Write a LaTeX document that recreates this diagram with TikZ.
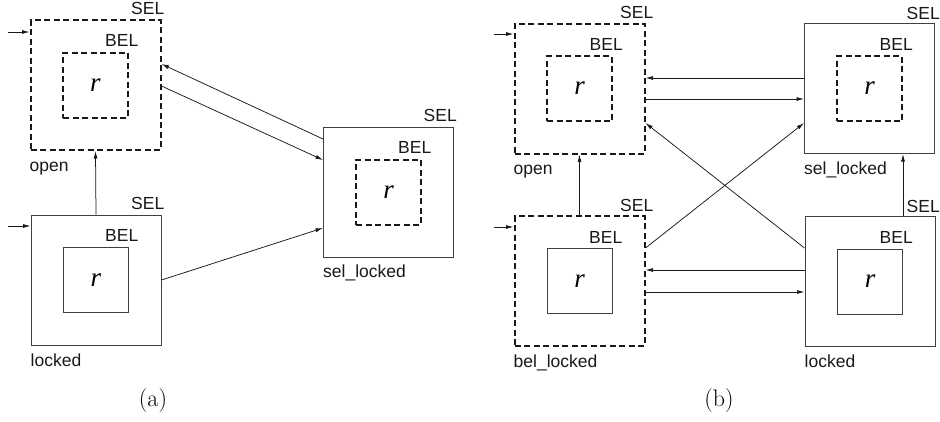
\documentclass[tikz,border=0pt]{standalone}
\usepackage{fontspec}
\setsansfont{Liberation Sans}
\newfontfamily\rfont{Liberation Serif}
\usetikzlibrary{arrows.meta}
\begin{document}
\begin{tikzpicture}[x=1pt,y=-1pt,
  outerbox/.style={draw=black!75, line width=1pt, minimum width=130pt, minimum height=130pt, inner sep=0pt},
  innerbox/.style={draw=black!75, line width=1pt, minimum width=65pt, minimum height=65pt, inner sep=0pt, font=\rfont\itshape\fontsize{27}{30}\selectfont},
  dbox/.style={line width=2pt, draw=black!90, dash pattern=on 6pt off 3.5pt},
  lbl/.style={font=\sffamily\fontsize{17.5}{20}\selectfont, inner sep=0pt, text=black!90},
  captext/.style={font=\fontsize{24}{28}\selectfont, inner sep=0pt},
  arr/.style={-{Latex[length=7.5pt,width=4pt]}, line width=0.75pt, draw=black!90}
]
\path[use as bounding box] (0,0) rectangle (940,421);

% ---------- (a) ----------
\node[outerbox,dbox] (Lopen) at (95.5,85) {};
\node[innerbox,dbox] (Lopeni) at (Lopen) {r};
\node[lbl, anchor=base east] (LopenS) at ([shift={(3,-5)}]Lopen.north east) {SEL};
\node[lbl, anchor=base east] (LopenB) at ([shift={(9.5,-5.5)}]Lopeni.north east) {BEL};
\node[lbl, anchor=base west] (LopenN) at ([shift={(0,20)}]Lopen.south west) {open};

\node[outerbox] (Llocked) at (96,280) {};
\node[innerbox] (Llockedi) at (Llocked) {r};
\node[lbl, anchor=base east] (LlockedS) at ([shift={(3,-5)}]Llocked.north east) {SEL};
\node[lbl, anchor=base east] (LlockedB) at ([shift={(9.5,-5.5)}]Llockedi.north east) {BEL};
\node[lbl, anchor=base west] (LlockedN) at ([shift={(0,21)}]Llocked.south west) {locked};

\node[outerbox] (Lsel) at (388.5,192) {};
\node[innerbox,dbox] (Lseli) at (Lsel) {r};
\node[lbl, anchor=base east] (LselS) at ([shift={(3,-5)}]Lsel.north east) {SEL};
\node[lbl, anchor=base east] (LselB) at ([shift={(9.5,-5.5)}]Lseli.north east) {BEL};
\node[lbl, anchor=base west] (LselN) at ([shift={(0,20)}]Lsel.south west) {sel\_locked};

\coordinate (LopenIn) at (8,32);
\coordinate (LlockedIn) at (8,226);
\draw[arr] (LopenIn) -- (Lopen.west |- LopenIn);
\draw[arr] (LlockedIn) -- (Llocked.west |- LlockedIn);
\draw[arr] (Llocked.north) -- (Lopen.south);
\draw[arr] (Lsel.west |- 0,139) -- (Lopen.east |- 0,64);
\draw[arr] (Lopen.east |- 0,86) -- (Lsel.west |- 0,160);
\draw[arr] (Llocked.east |- 0,280) -- (Lsel.west |- 0,228);

\node[captext] (capa) at (153,401) {(a)};

% ---------- (b) ----------
\node[outerbox,dbox] (Ropen) at (579.5,88.5) {};
\node[innerbox,dbox] (Ropeni) at (Ropen) {r};
\node[lbl, anchor=base east] (RopenS) at ([shift={(8,-4)}]Ropen.north east) {SEL};
\node[lbl, anchor=base east] (RopenB) at ([shift={(10,-5)}]Ropeni.north east) {BEL};
\node[lbl, anchor=base west] (RopenN) at ([shift={(0,20)}]Ropen.south west) {open};

\node[outerbox,dbox] (Rbel) at (579.5,281) {};
\node[innerbox] (Rbeli) at (Rbel) {r};
\node[lbl, anchor=base east] (RbelS) at ([shift={(8,-4)}]Rbel.north east) {SEL};
\node[lbl, anchor=base east] (RbelB) at ([shift={(10,-5)}]Rbeli.north east) {BEL};
\node[lbl, anchor=base west] (RbelN) at ([shift={(0,20)}]Rbel.south west) {bel\_locked};

\node[outerbox] (Rsel) at (869.5,88.5) {};
\node[innerbox,dbox] (Rseli) at (Rsel) {r};
\node[lbl, anchor=base east] (RselS) at ([shift={(5,-4)}]Rsel.north east) {SEL};
\node[lbl, anchor=base east] (RselB) at ([shift={(10,-5)}]Rseli.north east) {BEL};
\node[lbl, anchor=base west] (RselN) at ([shift={(0,20)}]Rsel.south west) {sel\_locked};

\node[outerbox] (Rlocked) at (870,281.5) {};
\node[innerbox] (Rlockedi) at (Rlocked) {r};
\node[lbl, anchor=base east] (RlockedS) at ([shift={(4.5,-4)}]Rlocked.north east) {SEL};
\node[lbl, anchor=base east] (RlockedB) at ([shift={(10,-5)}]Rlockedi.north east) {BEL};
\node[lbl, anchor=base west] (RlockedN) at ([shift={(0,20)}]Rlocked.south west) {locked};

\coordinate (RopenIn) at (494,34);
\coordinate (RbelIn) at (494,227);
\draw[arr] (RopenIn) -- (Ropen.west |- RopenIn);
\draw[arr] (RbelIn) -- (Rbel.west |- RbelIn);
\draw[arr] (Rbel.north) -- (Ropen.south);
\draw[arr] (Rlocked.north -| 903,0) -- (Rsel.south -| 903,0);
\draw[arr] (Rsel.west |- 0,78) -- (Ropen.east |- 0,78);
\draw[arr] (Ropen.east |- 0,99) -- (Rsel.west |- 0,99);
\draw[arr] (Rlocked.west |- 0,248) -- (Ropen.east |- 0,123);
\draw[arr] (Rbel.east |- 0,248) -- (Rsel.west |- 0,123);
\draw[arr] (Rlocked.west |- 0,270) -- (Rbel.east |- 0,270);
\draw[arr] (Rbel.east |- 0,292) -- (Rlocked.west |- 0,292);

\node[captext] (capb) at (719,401) {(b)};
\end{tikzpicture}
\end{document}
